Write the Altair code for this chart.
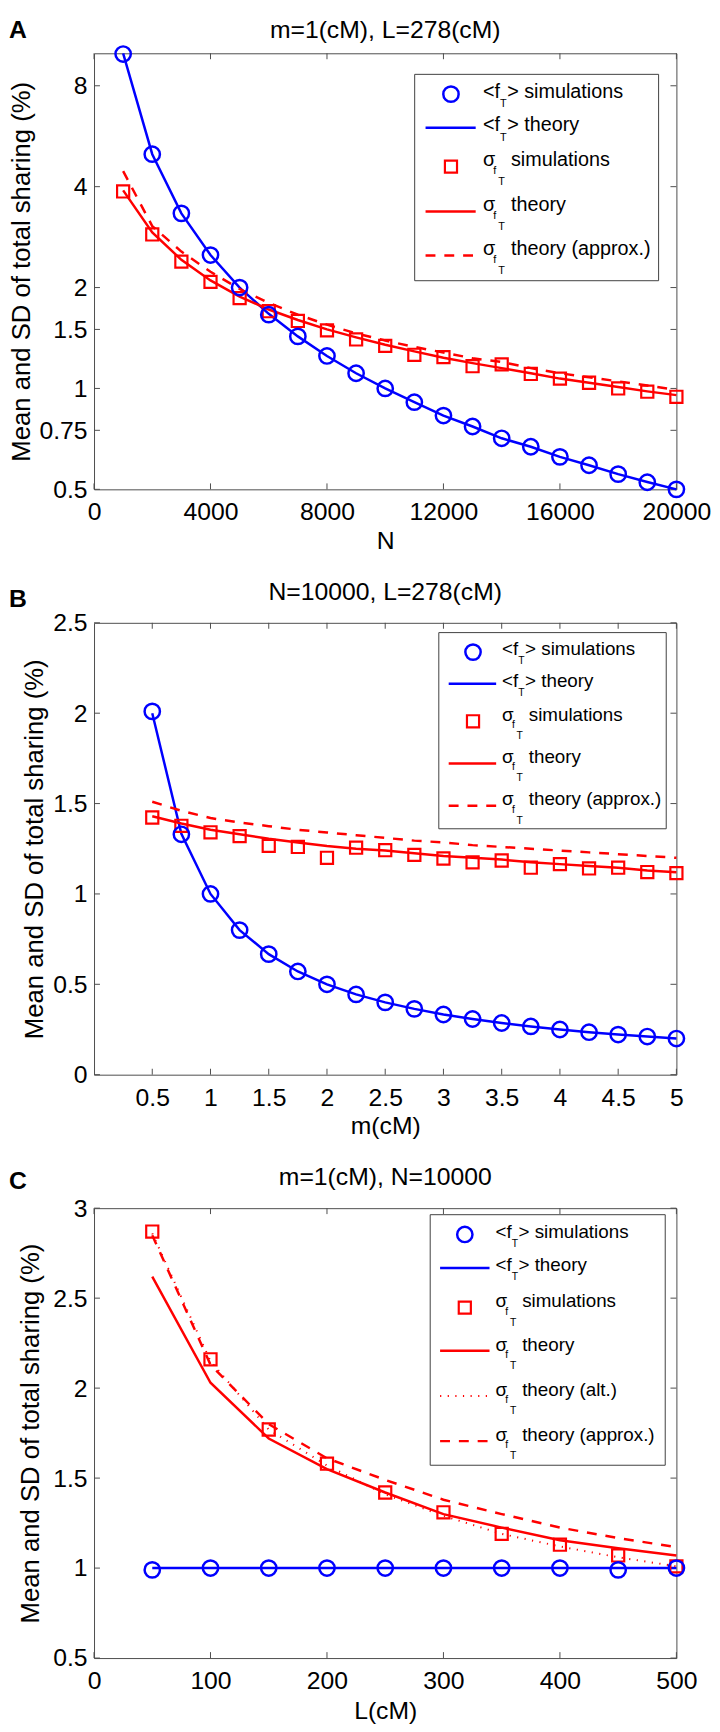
import altair as alt
import pandas as pd

FONT = "Liberation Sans"
BLUE = "#0000ff"
RED = "#ff0000"
FRAME = "#4d4d4d"
YTITLE = "Mean and SD of total sharing (%)"

# ---------------- Panel A : m=1(cM), L=278(cM) ----------------
a_N = [1000, 2000, 3000, 4000, 5000, 6000, 7000, 8000, 9000, 10000,
       11000, 12000, 13000, 14000, 15000, 16000, 17000, 18000, 19000, 20000]
a_mean_sim = [9.95, 5.0, 3.33, 2.5, 2.0, 1.66, 1.43, 1.25, 1.11, 1.0,
              0.91, 0.83, 0.77, 0.71, 0.67, 0.625, 0.59, 0.555, 0.525, 0.5]
a_mean_theory = [10.0, 5.0, 3.33, 2.5, 2.0, 1.67, 1.43, 1.25, 1.11, 1.0,
                 0.91, 0.83, 0.77, 0.71, 0.67, 0.625, 0.59, 0.555, 0.526, 0.5]
a_sd_sim = [3.87, 2.88, 2.39, 2.08, 1.86, 1.70, 1.59, 1.49, 1.40, 1.34,
            1.26, 1.24, 1.165, 1.18, 1.105, 1.07, 1.04, 1.0, 0.978, 0.944]
a_sd_theory = [3.9, 2.92, 2.42, 2.1, 1.88, 1.72, 1.6, 1.5, 1.42, 1.35,
               1.29, 1.235, 1.19, 1.15, 1.11, 1.07, 1.04, 1.01, 0.98, 0.955]
a_sd_approx = [4.45, 3.05, 2.56, 2.23, 1.98, 1.8, 1.66, 1.55, 1.46, 1.39,
               1.33, 1.28, 1.23, 1.2, 1.15, 1.11, 1.08, 1.05, 1.02, 0.99]
a_xticks = [0, 4000, 8000, 12000, 16000, 20000]
a_yticks = [0.5, 0.75, 1, 1.5, 2, 4, 8]

# ---------------- Panel B : N=10000, L=278(cM) ----------------
b_m = [0.5, 0.75, 1.0, 1.25, 1.5, 1.75, 2.0, 2.25, 2.5, 2.75,
       3.0, 3.25, 3.5, 3.75, 4.0, 4.25, 4.5, 4.75, 5.0]
b_mean_sim = [2.01, 1.33, 1.0, 0.8, 0.667, 0.571, 0.5, 0.444, 0.4, 0.364,
              0.333, 0.308, 0.286, 0.267, 0.25, 0.235, 0.222, 0.211, 0.2]
b_mean_theory = [2.0, 1.333, 1.0, 0.8, 0.667, 0.571, 0.5, 0.444, 0.4, 0.364,
                 0.333, 0.308, 0.286, 0.267, 0.25, 0.235, 0.222, 0.211, 0.2]
b_sd_sim = [1.423, 1.377, 1.341, 1.32, 1.266, 1.26, 1.20, 1.256, 1.242, 1.216,
            1.196, 1.175, 1.185, 1.145, 1.165, 1.141, 1.145, 1.121, 1.115]
b_sd_theory = [1.43, 1.39, 1.355, 1.33, 1.305, 1.285, 1.265, 1.25, 1.24, 1.225,
               1.21, 1.2, 1.19, 1.175, 1.165, 1.155, 1.145, 1.13, 1.12]
b_sd_approx = [1.51, 1.46, 1.42, 1.395, 1.375, 1.355, 1.34, 1.325, 1.31, 1.295,
               1.285, 1.27, 1.26, 1.25, 1.24, 1.23, 1.22, 1.21, 1.2]
b_xticks = [0.5, 1, 1.5, 2, 2.5, 3, 3.5, 4, 4.5, 5]
b_yticks = [0, 0.5, 1, 1.5, 2, 2.5]

# ---------------- Panel C : m=1(cM), N=10000 ----------------
c_L = [50, 100, 150, 200, 250, 300, 350, 400, 450, 500]
c_mean_sim = [0.99, 1.0, 1.0, 1.0, 1.0, 1.0, 1.0, 1.0, 0.99, 1.0]
c_mean_theory = [1.0, 1.0, 1.0, 1.0, 1.0, 1.0, 1.0, 1.0, 1.0, 1.0]
c_sd_sim = [2.87, 2.16, 1.77, 1.58, 1.42, 1.31, 1.19, 1.13, 1.07, 1.01]
c_sd_theory = [2.62, 2.03, 1.72, 1.55, 1.42, 1.30, 1.225, 1.155, 1.11, 1.07]
c_sd_alt = [2.86, 2.15, 1.77, 1.57, 1.41, 1.29, 1.19, 1.12, 1.06, 1.01]
c_sd_approx = [2.85, 2.13, 1.8, 1.61, 1.49, 1.38, 1.3, 1.225, 1.167, 1.116]
c_xticks = [0, 100, 200, 300, 400, 500]
c_yticks = [0.5, 1, 1.5, 2, 2.5, 3]

ONE = pd.DataFrame({"k": [0]})

LINE_STY = {
    "blue_line": dict(color=BLUE, strokeWidth=2.5),
    "red_solid": dict(color=RED, strokeWidth=2.5),
    "red_dash": dict(color=RED, strokeWidth=2.5, strokeDash=[10, 9]),
    "red_dot": dict(color=RED, strokeWidth=2, strokeDash=[1.2, 6.5]),
}
CIRCLE = dict(shape="circle", filled=False, size=240, strokeWidth=2.5, color=BLUE, opacity=1)
SQUARE = dict(shape="square", filled=False, size=150, strokeWidth=2.2, color=RED, opacity=1)


def txt(t, x, y, size, weight="normal", align="left"):
    return alt.Chart(ONE).mark_text(
        text=t, align=align, baseline="alphabetic", font=FONT, fontSize=size,
        fontWeight=weight, color="black"
    ).encode(x=alt.value(x), y=alt.value(y))


def legend_layers(lg):
    layers = []
    bx0, by0, bx1, by1 = lg["box"]
    layers.append(alt.Chart(ONE).mark_rect(fill="white", stroke="#404040", strokeWidth=1).encode(
        x=alt.value(bx0), x2=alt.value(bx1), y=alt.value(by0), y2=alt.value(by1)))
    fs = lg["fs"]
    k = fs / 20.0
    tx = lg["text_x"]
    for (kind, label, prefix), sy in zip(lg["entries"], lg["rows"]):
        if kind == "circle":
            layers.append(alt.Chart(ONE).mark_point(**CIRCLE).encode(
                x=alt.value(lg["sym_x"]), y=alt.value(sy)))
        elif kind == "square":
            layers.append(alt.Chart(ONE).mark_point(**SQUARE).encode(
                x=alt.value(lg["sym_x"]), y=alt.value(sy)))
        else:
            layers.append(alt.Chart(ONE).mark_rule(**LINE_STY[kind]).encode(
                x=alt.value(lg["line"][0]), x2=alt.value(lg["line"][1]), y=alt.value(sy)))
        if prefix == "f":
            base = sy + 3.5 * k
            pieces = [("<f", 0, 0, fs), ("T", 17.3 * k, 9.4 * k, 11 * k),
                      ("> " + label, 24.5 * k, 0, fs)]
        else:
            base = sy - 0.3 * k
            pieces = [("σ", 0, 0, fs), ("f", 10.5 * k, 7.7 * k, 11 * k),
                      ("T", 15.4 * k, 19.4 * k, 11 * k), (label, 28.4 * k, 0, fs)]
        for t, dx, dy, s in pieces:
            layers.append(txt(t, tx + dx, base + dy, s))
    return layers


def panel(p):
    W, H = p["W"], p["H"]
    xs = alt.Scale(domain=p["xdom"], nice=False, zero=False)
    if p["ylog"]:
        ys = alt.Scale(type="log", domain=p["ydom"], nice=False)
    else:
        ys = alt.Scale(domain=p["ydom"], nice=False, zero=False)
    xaxis = alt.Axis(values=p["xticks"], format=p["xfmt"], title=p["xtitle"],
                     titleY=p["xtitle_y"], titleBaseline="alphabetic", labelPadding=11)
    yaxis = alt.Axis(values=p["yticks"], format="~g", title=YTITLE,
                     titleX=p["ytitle_x"], titleBaseline="middle", labelPadding=7)

    layers = []
    # inward ticks on all four sides
    xt = pd.DataFrame({"v": p["xticks"]})
    yt = pd.DataFrame({"v": p["yticks"]})
    tick_sty = dict(color=FRAME, strokeWidth=1)
    layers.append(alt.Chart(xt).mark_rule(**tick_sty).encode(
        x=alt.X("v:Q", scale=xs, axis=xaxis), y=alt.value(H), y2=alt.value(H - 6)))
    layers.append(alt.Chart(xt).mark_rule(**tick_sty).encode(
        x=alt.X("v:Q", scale=xs, axis=xaxis), y=alt.value(0), y2=alt.value(6)))
    layers.append(alt.Chart(yt).mark_rule(**tick_sty).encode(
        y=alt.Y("v:Q", scale=ys, axis=yaxis), x=alt.value(0), x2=alt.value(6)))
    layers.append(alt.Chart(yt).mark_rule(**tick_sty).encode(
        y=alt.Y("v:Q", scale=ys, axis=yaxis), x=alt.value(W - 6), x2=alt.value(W)))

    xv = p["x"]
    for kind, vals in p["lines"]:
        d = pd.DataFrame({"x": xv, "y": vals})
        layers.append(alt.Chart(d).mark_line(**LINE_STY[kind]).encode(
            x=alt.X("x:Q", scale=xs, axis=xaxis), y=alt.Y("y:Q", scale=ys, axis=yaxis)))
    for kind, vals in p["points"]:
        d = pd.DataFrame({"x": xv, "y": vals})
        sty = CIRCLE if kind == "circle" else SQUARE
        layers.append(alt.Chart(d).mark_point(**sty).encode(
            x=alt.X("x:Q", scale=xs, axis=xaxis), y=alt.Y("y:Q", scale=ys, axis=yaxis)))

    layers += legend_layers(p["legend"])
    layers.append(txt(p["title"], W / 2, p["title_y"], 25, align="center"))
    layers.append(txt(p["letter"], -86, p["letter_y"], 25, weight="bold"))
    return alt.layer(*layers).properties(width=W, height=H)


f_entries = [("circle", "simulations", "f"), ("blue_line", "theory", "f"),
             ("square", "simulations", "s"), ("red_solid", "theory", "s")]

pA = dict(
    W=589, H=441, x=a_N, xdom=[0, 20000], ydom=[0.5, 10], ylog=True,
    xticks=a_xticks, yticks=a_yticks, xfmt="d", xtitle="N", xtitle_y=60, ytitle_x=-73,
    lines=[("blue_line", a_mean_theory), ("red_solid", a_sd_theory), ("red_dash", a_sd_approx)],
    points=[("square", a_sd_sim), ("circle", a_mean_sim)],
    title="m=1(cM), L=278(cM)", title_y=-15, letter="A", letter_y=-15,
    legend=dict(box=(324.3, 21.3, 571, 230), sym_x=361, line=(335.3, 386), text_x=393.3,
                rows=[41.3, 75.3, 114.6, 160, 204.6], fs=20,
                entries=f_entries + [("red_dash", "theory (approx.)", "s")]),
)
pB = dict(
    W=589, H=457, x=b_m, xdom=[0, 5], ydom=[0, 2.5], ylog=False,
    xticks=b_xticks, yticks=b_yticks, xfmt="~g", xtitle="m(cM)", xtitle_y=59, ytitle_x=-60,
    lines=[("blue_line", b_mean_theory), ("red_solid", b_sd_theory), ("red_dash", b_sd_approx)],
    points=[("square", b_sd_sim), ("circle", b_mean_sim)],
    title="N=10000, L=278(cM)", title_y=-22.7, letter="B", letter_y=-16,
    legend=dict(box=(348.7, 9.9, 578.7, 208.3), sym_x=383.3, line=(358.7, 406.7), text_x=412.7,
                rows=[29.6, 61.6, 99.6, 142.3, 185], fs=19,
                entries=f_entries + [("red_dash", "theory (approx.)", "s")]),
)
pC = dict(
    W=589, H=455, x=c_L, xdom=[0, 500], ydom=[0.5, 3], ylog=False,
    xticks=c_xticks, yticks=c_yticks, xfmt="d", xtitle="L(cM)", xtitle_y=61, ytitle_x=-64,
    lines=[("blue_line", c_mean_theory), ("red_solid", c_sd_theory), ("red_dot", c_sd_alt),
           ("red_dash", c_sd_approx)],
    points=[("square", c_sd_sim), ("circle", c_mean_sim)],
    title="m=1(cM), N=10000", title_y=-23.4, letter="C", letter_y=-19,
    legend=dict(box=(340, 6.6, 577.7, 260), sym_x=375, line=(350, 400), text_x=406,
                rows=[26.6, 60.6, 100.6, 144.3, 190, 235.6], fs=19,
                entries=f_entries + [("red_dot", "theory (alt.)", "s"),
                                     ("red_dash", "theory (approx.)", "s")]),
)

chart = alt.vconcat(panel(pA), panel(pB), panel(pC), spacing=135, bounds="flush").properties(
    padding={"left": 0, "top": 0, "right": 0, "bottom": 0}
).configure_view(
    stroke=FRAME, strokeWidth=1
).configure_axis(
    labelFont=FONT, labelFontSize=25, labelColor="black",
    titleFont=FONT, titleFontWeight="normal", titleColor="black",
    grid=False, domain=False, ticks=False, tickSize=0,
    labelFlush=False, labelOverlap=False,
).configure_axisX(titleFontSize=25).configure_axisY(titleFontSize=26)

chart.save("out.html", embed_options={"renderer": "svg", "actions": False})
